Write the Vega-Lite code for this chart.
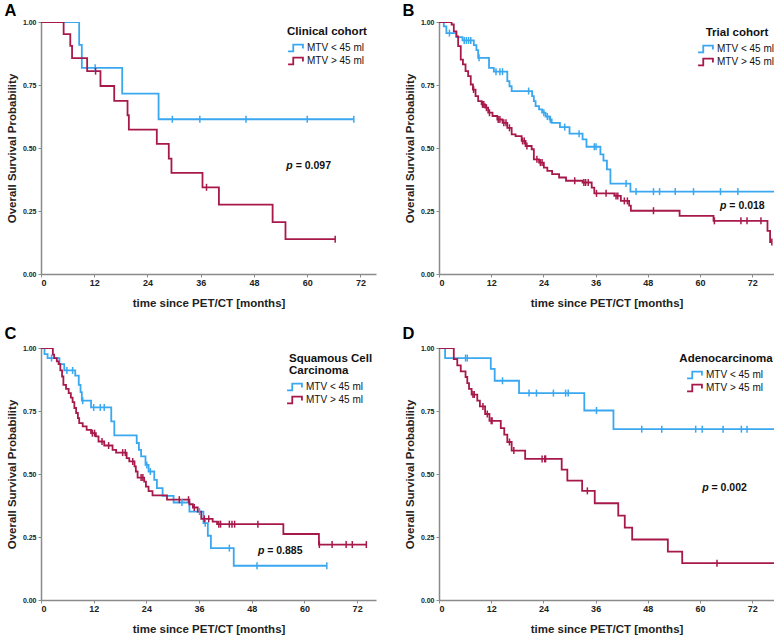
{
  "$schema": "https://vega.github.io/schema/vega-lite/v6.json",
  "background": "white",
  "padding": {"left": 4, "top": 3, "right": 0, "bottom": 0},
  "config": {
    "view": {"stroke": null},
    "axis": {"domainColor": "#8a8a8a", "domainWidth": 1.5, "tickColor": "#8a8a8a", "tickSize": 3, "grid": false,
      "labelFont": "Liberation Sans", "labelFontWeight": "bold", "labelColor": "#222",
      "titleFont": "Liberation Sans", "titleFontWeight": "bold", "titleFontSize": 11.5, "titleColor": "#222"},
    "axisX": {"labelFontSize": 9, "labelPadding": 1, "titlePadding": 10},
    "axisY": {"labelFontSize": 7, "labelPadding": 2, "titlePadding": 4.5, "minExtent": 19, "maxExtent": 19},
    "legend": {"orient": "none", "symbolType": "M-1.65,0.75L-0.5,0.75L-0.5,-0.75L1.65,-0.75L1.65,0.1", "symbolSize": 81, "symbolStrokeWidth": 1.8,
      "symbolFillColor": "transparent", "symbolOffset": 0, "labelOffset": 6, "rowPadding": -3, "titleAnchor": "middle", "titlePadding": 5,
      "titleFontSize": 11.5, "titleFont": "Liberation Sans", "titleFontWeight": "bold", "titleColor": "#111",
      "labelFont": "Liberation Sans", "labelFontSize": 10, "labelColor": "#111", "padding": 0},
    "title": {"anchor": "start", "frame": "bounds", "dx": -2, "fontSize": 16.5, "font": "Liberation Sans", "fontWeight": "bold", "color": "#000"},
    "text": {"font": "Liberation Sans", "fontWeight": "bold", "fontSize": 10.5, "align": "left", "baseline": "middle", "color": "#111"},
    "point": {"shape": "M0,-1L0,1", "size": 49, "strokeWidth": 1.5, "filled": false, "opacity": 1}
  },
  "datasets": {
    "A": [
      {"g":"MTV < 45 ml","t":0,"s":1,"c":0},{"g":"MTV < 45 ml","t":8.6,"s":0.909,"c":0},{"g":"MTV < 45 ml","t":9.2,"s":0.818,"c":0},
      {"g":"MTV < 45 ml","t":12.2,"s":0.818,"c":1},{"g":"MTV < 45 ml","t":18.3,"s":0.716,"c":0},{"g":"MTV < 45 ml","t":26.5,"s":0.614,"c":0},
      {"g":"MTV < 45 ml","t":29.6,"s":0.614,"c":1},{"g":"MTV < 45 ml","t":35.8,"s":0.614,"c":1},{"g":"MTV < 45 ml","t":46.2,"s":0.614,"c":1},
      {"g":"MTV < 45 ml","t":60.0,"s":0.614,"c":1},{"g":"MTV < 45 ml","t":70.5,"s":0.614,"c":1},{"g":"MTV < 45 ml","t":70.5,"s":0.614,"c":0},
      {"g":"MTV > 45 ml","t":0,"s":1,"c":0},{"g":"MTV > 45 ml","t":5.1,"s":0.952,"c":0},{"g":"MTV > 45 ml","t":6.6,"s":0.905,"c":0},
      {"g":"MTV > 45 ml","t":7.0,"s":0.857,"c":0},{"g":"MTV > 45 ml","t":10.4,"s":0.805,"c":0},{"g":"MTV > 45 ml","t":12.3,"s":0.805,"c":1},
      {"g":"MTV > 45 ml","t":13.4,"s":0.746,"c":0},{"g":"MTV > 45 ml","t":16.5,"s":0.687,"c":0},{"g":"MTV > 45 ml","t":19.5,"s":0.630,"c":0},
      {"g":"MTV > 45 ml","t":19.8,"s":0.573,"c":0},{"g":"MTV > 45 ml","t":26.1,"s":0.516,"c":0},{"g":"MTV > 45 ml","t":28.8,"s":0.458,"c":0},
      {"g":"MTV > 45 ml","t":29.4,"s":0.401,"c":0},{"g":"MTV > 45 ml","t":36.4,"s":0.344,"c":0},{"g":"MTV > 45 ml","t":37.3,"s":0.344,"c":1},
      {"g":"MTV > 45 ml","t":40.1,"s":0.275,"c":0},{"g":"MTV > 45 ml","t":52.2,"s":0.206,"c":0},{"g":"MTV > 45 ml","t":55.1,"s":0.138,"c":0},
      {"g":"MTV > 45 ml","t":66.3,"s":0.138,"c":1},{"g":"MTV > 45 ml","t":66.3,"s":0.138,"c":0}
    ],
    "B": [
      {"g":"MTV < 45 ml","t":0,"s":1,"c":0},{"g":"MTV < 45 ml","t":1.1,"s":0.983,"c":0},{"g":"MTV < 45 ml","t":1.7,"s":0.956,"c":0},
      {"g":"MTV < 45 ml","t":2.4,"s":0.956,"c":1},{"g":"MTV < 45 ml","t":4.0,"s":0.940,"c":0},{"g":"MTV < 45 ml","t":5.4,"s":0.927,"c":0},
      {"g":"MTV < 45 ml","t":5.8,"s":0.927,"c":1},{"g":"MTV < 45 ml","t":6.3,"s":0.927,"c":1},{"g":"MTV < 45 ml","t":6.8,"s":0.927,"c":1},
      {"g":"MTV < 45 ml","t":7.3,"s":0.927,"c":1},{"g":"MTV < 45 ml","t":8.0,"s":0.908,"c":0},{"g":"MTV < 45 ml","t":8.6,"s":0.888,"c":0},
      {"g":"MTV < 45 ml","t":9.0,"s":0.858,"c":0},{"g":"MTV < 45 ml","t":9.2,"s":0.858,"c":1},{"g":"MTV < 45 ml","t":11.5,"s":0.818,"c":0},
      {"g":"MTV < 45 ml","t":12.6,"s":0.803,"c":0},{"g":"MTV < 45 ml","t":13.1,"s":0.803,"c":1},{"g":"MTV < 45 ml","t":14.0,"s":0.803,"c":1},
      {"g":"MTV < 45 ml","t":14.6,"s":0.803,"c":1},{"g":"MTV < 45 ml","t":15.7,"s":0.765,"c":0},{"g":"MTV < 45 ml","t":16.2,"s":0.745,"c":0},
      {"g":"MTV < 45 ml","t":16.7,"s":0.726,"c":0},{"g":"MTV < 45 ml","t":20.6,"s":0.726,"c":1},{"g":"MTV < 45 ml","t":21.4,"s":0.706,"c":0},
      {"g":"MTV < 45 ml","t":21.8,"s":0.686,"c":0},{"g":"MTV < 45 ml","t":22.2,"s":0.666,"c":0},{"g":"MTV < 45 ml","t":23.0,"s":0.653,"c":0},
      {"g":"MTV < 45 ml","t":23.7,"s":0.640,"c":0},{"g":"MTV < 45 ml","t":24.1,"s":0.640,"c":1},{"g":"MTV < 45 ml","t":24.5,"s":0.625,"c":0},
      {"g":"MTV < 45 ml","t":24.9,"s":0.625,"c":1},{"g":"MTV < 45 ml","t":25.4,"s":0.613,"c":0},{"g":"MTV < 45 ml","t":25.6,"s":0.613,"c":1},
      {"g":"MTV < 45 ml","t":25.9,"s":0.600,"c":0},{"g":"MTV < 45 ml","t":27.8,"s":0.583,"c":0},{"g":"MTV < 45 ml","t":28.9,"s":0.583,"c":1},
      {"g":"MTV < 45 ml","t":30.0,"s":0.557,"c":0},{"g":"MTV < 45 ml","t":32.2,"s":0.557,"c":1},{"g":"MTV < 45 ml","t":33.0,"s":0.534,"c":0},
      {"g":"MTV < 45 ml","t":33.9,"s":0.505,"c":0},{"g":"MTV < 45 ml","t":35.7,"s":0.505,"c":1},{"g":"MTV < 45 ml","t":36.1,"s":0.505,"c":1},
      {"g":"MTV < 45 ml","t":37.1,"s":0.475,"c":0},{"g":"MTV < 45 ml","t":37.8,"s":0.450,"c":0},{"g":"MTV < 45 ml","t":38.6,"s":0.415,"c":0},
      {"g":"MTV < 45 ml","t":39.4,"s":0.359,"c":0},{"g":"MTV < 45 ml","t":43.0,"s":0.359,"c":1},{"g":"MTV < 45 ml","t":44.0,"s":0.327,"c":0},
      {"g":"MTV < 45 ml","t":45.3,"s":0.327,"c":1},{"g":"MTV < 45 ml","t":49.3,"s":0.327,"c":1},{"g":"MTV < 45 ml","t":50.7,"s":0.327,"c":1},
      {"g":"MTV < 45 ml","t":54.3,"s":0.327,"c":1},{"g":"MTV < 45 ml","t":58.5,"s":0.327,"c":1},{"g":"MTV < 45 ml","t":64.7,"s":0.327,"c":1},
      {"g":"MTV < 45 ml","t":68.7,"s":0.327,"c":1},{"g":"MTV < 45 ml","t":77,"s":0.327,"c":0},
      {"g":"MTV > 45 ml","t":0,"s":1,"c":0},{"g":"MTV > 45 ml","t":2.9,"s":0.990,"c":0},{"g":"MTV > 45 ml","t":3.4,"s":0.963,"c":0},
      {"g":"MTV > 45 ml","t":4.0,"s":0.943,"c":0},{"g":"MTV > 45 ml","t":4.4,"s":0.904,"c":0},{"g":"MTV > 45 ml","t":5.0,"s":0.851,"c":0},
      {"g":"MTV > 45 ml","t":5.5,"s":0.832,"c":0},{"g":"MTV > 45 ml","t":6.1,"s":0.805,"c":0},{"g":"MTV > 45 ml","t":6.7,"s":0.785,"c":0},
      {"g":"MTV > 45 ml","t":7.3,"s":0.752,"c":0},{"g":"MTV > 45 ml","t":7.8,"s":0.732,"c":0},{"g":"MTV > 45 ml","t":7.95,"s":0.732,"c":1},
      {"g":"MTV > 45 ml","t":8.4,"s":0.706,"c":0},{"g":"MTV > 45 ml","t":9.0,"s":0.686,"c":0},{"g":"MTV > 45 ml","t":9.8,"s":0.673,"c":0},
      {"g":"MTV > 45 ml","t":10.0,"s":0.673,"c":1},{"g":"MTV > 45 ml","t":10.3,"s":0.673,"c":1},{"g":"MTV > 45 ml","t":10.6,"s":0.660,"c":0},
      {"g":"MTV > 45 ml","t":10.9,"s":0.660,"c":1},{"g":"MTV > 45 ml","t":11.3,"s":0.640,"c":0},{"g":"MTV > 45 ml","t":11.6,"s":0.640,"c":1},
      {"g":"MTV > 45 ml","t":12.3,"s":0.627,"c":0},{"g":"MTV > 45 ml","t":13.4,"s":0.613,"c":0},{"g":"MTV > 45 ml","t":13.6,"s":0.613,"c":1},
      {"g":"MTV > 45 ml","t":14.0,"s":0.613,"c":1},{"g":"MTV > 45 ml","t":14.6,"s":0.600,"c":0},{"g":"MTV > 45 ml","t":14.9,"s":0.600,"c":1},
      {"g":"MTV > 45 ml","t":15.4,"s":0.600,"c":1},{"g":"MTV > 45 ml","t":15.7,"s":0.580,"c":0},{"g":"MTV > 45 ml","t":16.2,"s":0.580,"c":1},
      {"g":"MTV > 45 ml","t":16.7,"s":0.554,"c":0},{"g":"MTV > 45 ml","t":17.6,"s":0.547,"c":0},{"g":"MTV > 45 ml","t":19.0,"s":0.528,"c":0},
      {"g":"MTV > 45 ml","t":19.2,"s":0.528,"c":1},{"g":"MTV > 45 ml","t":19.6,"s":0.528,"c":1},{"g":"MTV > 45 ml","t":19.9,"s":0.508,"c":0},
      {"g":"MTV > 45 ml","t":20.2,"s":0.508,"c":1},{"g":"MTV > 45 ml","t":21.3,"s":0.495,"c":0},{"g":"MTV > 45 ml","t":21.8,"s":0.455,"c":0},
      {"g":"MTV > 45 ml","t":22.5,"s":0.455,"c":1},{"g":"MTV > 45 ml","t":23.0,"s":0.442,"c":0},{"g":"MTV > 45 ml","t":23.3,"s":0.442,"c":1},
      {"g":"MTV > 45 ml","t":23.7,"s":0.442,"c":1},{"g":"MTV > 45 ml","t":24.1,"s":0.422,"c":0},{"g":"MTV > 45 ml","t":24.9,"s":0.409,"c":0},
      {"g":"MTV > 45 ml","t":26.0,"s":0.396,"c":0},{"g":"MTV > 45 ml","t":27.6,"s":0.383,"c":0},{"g":"MTV > 45 ml","t":29.2,"s":0.370,"c":0},
      {"g":"MTV > 45 ml","t":31.2,"s":0.370,"c":1},{"g":"MTV > 45 ml","t":33.0,"s":0.363,"c":0},{"g":"MTV > 45 ml","t":33.3,"s":0.363,"c":1},
      {"g":"MTV > 45 ml","t":33.7,"s":0.363,"c":1},{"g":"MTV > 45 ml","t":34.3,"s":0.363,"c":1},{"g":"MTV > 45 ml","t":35.1,"s":0.343,"c":0},
      {"g":"MTV > 45 ml","t":35.7,"s":0.320,"c":0},{"g":"MTV > 45 ml","t":36.2,"s":0.320,"c":1},{"g":"MTV > 45 ml","t":38.4,"s":0.320,"c":1},
      {"g":"MTV > 45 ml","t":40.3,"s":0.310,"c":0},{"g":"MTV > 45 ml","t":40.7,"s":0.310,"c":1},{"g":"MTV > 45 ml","t":41.1,"s":0.310,"c":1},
      {"g":"MTV > 45 ml","t":41.8,"s":0.290,"c":0},{"g":"MTV > 45 ml","t":42.6,"s":0.290,"c":1},{"g":"MTV > 45 ml","t":43.3,"s":0.290,"c":1},
      {"g":"MTV > 45 ml","t":43.7,"s":0.271,"c":0},{"g":"MTV > 45 ml","t":44.1,"s":0.251,"c":0},{"g":"MTV > 45 ml","t":49.3,"s":0.251,"c":1},
      {"g":"MTV > 45 ml","t":55.3,"s":0.231,"c":0},{"g":"MTV > 45 ml","t":63.1,"s":0.211,"c":0},{"g":"MTV > 45 ml","t":63.3,"s":0.211,"c":1},
      {"g":"MTV > 45 ml","t":69.4,"s":0.211,"c":1},{"g":"MTV > 45 ml","t":70.8,"s":0.211,"c":1},{"g":"MTV > 45 ml","t":74.0,"s":0.211,"c":1},
      {"g":"MTV > 45 ml","t":75.5,"s":0.171,"c":0},{"g":"MTV > 45 ml","t":76.1,"s":0.127,"c":0},{"g":"MTV > 45 ml","t":76.5,"s":0.127,"c":1},
      {"g":"MTV > 45 ml","t":76.5,"s":0.127,"c":0}
    ],
    "C": [
      {"g":"MTV < 45 ml","t":0,"s":1,"c":0},{"g":"MTV < 45 ml","t":0.8,"s":0.976,"c":0},{"g":"MTV < 45 ml","t":1.5,"s":0.960,"c":0},
      {"g":"MTV < 45 ml","t":2.4,"s":0.960,"c":1},{"g":"MTV < 45 ml","t":4.2,"s":0.936,"c":0},{"g":"MTV < 45 ml","t":5.3,"s":0.911,"c":0},
      {"g":"MTV < 45 ml","t":5.9,"s":0.911,"c":1},{"g":"MTV < 45 ml","t":7.2,"s":0.911,"c":1},{"g":"MTV < 45 ml","t":7.8,"s":0.890,"c":0},
      {"g":"MTV < 45 ml","t":8.6,"s":0.854,"c":0},{"g":"MTV < 45 ml","t":9.0,"s":0.825,"c":0},{"g":"MTV < 45 ml","t":9.3,"s":0.791,"c":0},
      {"g":"MTV < 45 ml","t":9.5,"s":0.791,"c":1},{"g":"MTV < 45 ml","t":11.4,"s":0.764,"c":0},{"g":"MTV < 45 ml","t":12.0,"s":0.764,"c":1},
      {"g":"MTV < 45 ml","t":13.5,"s":0.764,"c":1},{"g":"MTV < 45 ml","t":14.4,"s":0.764,"c":1},{"g":"MTV < 45 ml","t":16.0,"s":0.709,"c":0},
      {"g":"MTV < 45 ml","t":16.7,"s":0.653,"c":0},{"g":"MTV < 45 ml","t":21.8,"s":0.623,"c":0},{"g":"MTV < 45 ml","t":22.3,"s":0.596,"c":0},
      {"g":"MTV < 45 ml","t":22.8,"s":0.570,"c":0},{"g":"MTV < 45 ml","t":23.8,"s":0.536,"c":0},{"g":"MTV < 45 ml","t":24.1,"s":0.536,"c":1},
      {"g":"MTV < 45 ml","t":24.5,"s":0.510,"c":0},{"g":"MTV < 45 ml","t":24.9,"s":0.510,"c":1},{"g":"MTV < 45 ml","t":25.8,"s":0.477,"c":0},
      {"g":"MTV < 45 ml","t":26.4,"s":0.444,"c":0},{"g":"MTV < 45 ml","t":27.7,"s":0.413,"c":0},{"g":"MTV < 45 ml","t":30.2,"s":0.387,"c":0},
      {"g":"MTV < 45 ml","t":32.1,"s":0.387,"c":1},{"g":"MTV < 45 ml","t":33.8,"s":0.351,"c":0},{"g":"MTV < 45 ml","t":36.1,"s":0.351,"c":1},
      {"g":"MTV < 45 ml","t":37.0,"s":0.305,"c":0},{"g":"MTV < 45 ml","t":37.4,"s":0.305,"c":1},{"g":"MTV < 45 ml","t":38.0,"s":0.255,"c":0},
      {"g":"MTV < 45 ml","t":38.7,"s":0.206,"c":0},{"g":"MTV < 45 ml","t":42.9,"s":0.206,"c":1},{"g":"MTV < 45 ml","t":43.9,"s":0.136,"c":0},
      {"g":"MTV < 45 ml","t":49.2,"s":0.136,"c":1},{"g":"MTV < 45 ml","t":65.1,"s":0.136,"c":1},{"g":"MTV < 45 ml","t":65.1,"s":0.136,"c":0},
      {"g":"MTV > 45 ml","t":0,"s":1,"c":0},{"g":"MTV > 45 ml","t":2.7,"s":0.974,"c":0},{"g":"MTV > 45 ml","t":3.0,"s":0.960,"c":0},
      {"g":"MTV > 45 ml","t":3.6,"s":0.947,"c":0},{"g":"MTV > 45 ml","t":4.0,"s":0.936,"c":0},{"g":"MTV > 45 ml","t":4.4,"s":0.911,"c":0},
      {"g":"MTV > 45 ml","t":4.8,"s":0.887,"c":0},{"g":"MTV > 45 ml","t":5.1,"s":0.854,"c":0},{"g":"MTV > 45 ml","t":5.7,"s":0.838,"c":0},
      {"g":"MTV > 45 ml","t":6.3,"s":0.821,"c":0},{"g":"MTV > 45 ml","t":6.8,"s":0.803,"c":0},{"g":"MTV > 45 ml","t":7.2,"s":0.785,"c":0},
      {"g":"MTV > 45 ml","t":7.6,"s":0.762,"c":0},{"g":"MTV > 45 ml","t":8.0,"s":0.742,"c":0},{"g":"MTV > 45 ml","t":8.4,"s":0.722,"c":0},
      {"g":"MTV > 45 ml","t":8.7,"s":0.702,"c":0},{"g":"MTV > 45 ml","t":9.5,"s":0.689,"c":0},{"g":"MTV > 45 ml","t":10.4,"s":0.675,"c":0},
      {"g":"MTV > 45 ml","t":11.4,"s":0.662,"c":0},{"g":"MTV > 45 ml","t":11.7,"s":0.662,"c":1},{"g":"MTV > 45 ml","t":12.2,"s":0.662,"c":1},
      {"g":"MTV > 45 ml","t":12.5,"s":0.649,"c":0},{"g":"MTV > 45 ml","t":13.1,"s":0.629,"c":0},{"g":"MTV > 45 ml","t":13.9,"s":0.629,"c":1},
      {"g":"MTV > 45 ml","t":14.4,"s":0.613,"c":0},{"g":"MTV > 45 ml","t":15.4,"s":0.613,"c":1},{"g":"MTV > 45 ml","t":16.3,"s":0.596,"c":0},
      {"g":"MTV > 45 ml","t":17.1,"s":0.585,"c":0},{"g":"MTV > 45 ml","t":18.6,"s":0.585,"c":1},{"g":"MTV > 45 ml","t":19.2,"s":0.585,"c":1},
      {"g":"MTV > 45 ml","t":19.5,"s":0.563,"c":0},{"g":"MTV > 45 ml","t":20.1,"s":0.550,"c":0},{"g":"MTV > 45 ml","t":20.9,"s":0.550,"c":1},
      {"g":"MTV > 45 ml","t":21.3,"s":0.530,"c":0},{"g":"MTV > 45 ml","t":21.6,"s":0.510,"c":0},{"g":"MTV > 45 ml","t":22.0,"s":0.486,"c":0},
      {"g":"MTV > 45 ml","t":22.8,"s":0.486,"c":1},{"g":"MTV > 45 ml","t":23.2,"s":0.486,"c":1},{"g":"MTV > 45 ml","t":23.5,"s":0.470,"c":0},
      {"g":"MTV > 45 ml","t":23.9,"s":0.450,"c":0},{"g":"MTV > 45 ml","t":24.5,"s":0.432,"c":0},{"g":"MTV > 45 ml","t":25.4,"s":0.415,"c":0},
      {"g":"MTV > 45 ml","t":28.7,"s":0.398,"c":0},{"g":"MTV > 45 ml","t":31.5,"s":0.398,"c":1},{"g":"MTV > 45 ml","t":33.6,"s":0.398,"c":1},
      {"g":"MTV > 45 ml","t":33.8,"s":0.380,"c":0},{"g":"MTV > 45 ml","t":34.6,"s":0.367,"c":0},{"g":"MTV > 45 ml","t":34.9,"s":0.367,"c":1},
      {"g":"MTV > 45 ml","t":35.7,"s":0.351,"c":0},{"g":"MTV > 45 ml","t":36.5,"s":0.322,"c":0},{"g":"MTV > 45 ml","t":37.2,"s":0.322,"c":1},
      {"g":"MTV > 45 ml","t":38.2,"s":0.322,"c":1},{"g":"MTV > 45 ml","t":39.1,"s":0.311,"c":0},{"g":"MTV > 45 ml","t":40.1,"s":0.301,"c":0},
      {"g":"MTV > 45 ml","t":40.5,"s":0.301,"c":1},{"g":"MTV > 45 ml","t":40.9,"s":0.301,"c":1},{"g":"MTV > 45 ml","t":42.9,"s":0.301,"c":1},
      {"g":"MTV > 45 ml","t":43.5,"s":0.301,"c":1},{"g":"MTV > 45 ml","t":44.1,"s":0.301,"c":1},{"g":"MTV > 45 ml","t":49.4,"s":0.301,"c":1},
      {"g":"MTV > 45 ml","t":55.2,"s":0.262,"c":0},{"g":"MTV > 45 ml","t":63.3,"s":0.220,"c":0},{"g":"MTV > 45 ml","t":63.4,"s":0.220,"c":1},
      {"g":"MTV > 45 ml","t":66.3,"s":0.220,"c":1},{"g":"MTV > 45 ml","t":69.5,"s":0.220,"c":1},{"g":"MTV > 45 ml","t":70.9,"s":0.220,"c":1},
      {"g":"MTV > 45 ml","t":74.1,"s":0.220,"c":1},{"g":"MTV > 45 ml","t":74.1,"s":0.220,"c":0}
    ],
    "D": [
      {"g":"MTV < 45 ml","t":0,"s":1,"c":0},{"g":"MTV < 45 ml","t":1.4,"s":0.960,"c":0},{"g":"MTV < 45 ml","t":6.1,"s":0.960,"c":1},
      {"g":"MTV < 45 ml","t":6.5,"s":0.960,"c":1},{"g":"MTV < 45 ml","t":11.9,"s":0.917,"c":0},{"g":"MTV < 45 ml","t":12.8,"s":0.870,"c":0},
      {"g":"MTV < 45 ml","t":14.6,"s":0.870,"c":1},{"g":"MTV < 45 ml","t":18.4,"s":0.821,"c":0},{"g":"MTV < 45 ml","t":20.7,"s":0.821,"c":1},
      {"g":"MTV < 45 ml","t":22.4,"s":0.821,"c":1},{"g":"MTV < 45 ml","t":26.3,"s":0.821,"c":1},{"g":"MTV < 45 ml","t":29.1,"s":0.821,"c":1},
      {"g":"MTV < 45 ml","t":29.7,"s":0.821,"c":1},{"g":"MTV < 45 ml","t":33.4,"s":0.752,"c":0},{"g":"MTV < 45 ml","t":36.2,"s":0.752,"c":1},
      {"g":"MTV < 45 ml","t":40.1,"s":0.678,"c":0},{"g":"MTV < 45 ml","t":46.6,"s":0.678,"c":1},{"g":"MTV < 45 ml","t":51.2,"s":0.678,"c":1},
      {"g":"MTV < 45 ml","t":59.0,"s":0.678,"c":1},{"g":"MTV < 45 ml","t":60.5,"s":0.678,"c":1},{"g":"MTV < 45 ml","t":65.3,"s":0.678,"c":1},
      {"g":"MTV < 45 ml","t":69.5,"s":0.678,"c":1},{"g":"MTV < 45 ml","t":70.8,"s":0.678,"c":1},{"g":"MTV < 45 ml","t":77,"s":0.678,"c":0},
      {"g":"MTV > 45 ml","t":0,"s":1,"c":0},{"g":"MTV > 45 ml","t":3.4,"s":0.956,"c":0},{"g":"MTV > 45 ml","t":4.2,"s":0.931,"c":0},
      {"g":"MTV > 45 ml","t":5.0,"s":0.907,"c":0},{"g":"MTV > 45 ml","t":6.1,"s":0.885,"c":0},{"g":"MTV > 45 ml","t":6.5,"s":0.861,"c":0},
      {"g":"MTV > 45 ml","t":6.9,"s":0.838,"c":0},{"g":"MTV > 45 ml","t":7.5,"s":0.815,"c":0},{"g":"MTV > 45 ml","t":7.8,"s":0.815,"c":1},
      {"g":"MTV > 45 ml","t":8.1,"s":0.815,"c":1},{"g":"MTV > 45 ml","t":8.8,"s":0.791,"c":0},{"g":"MTV > 45 ml","t":9.4,"s":0.768,"c":0},
      {"g":"MTV > 45 ml","t":10.1,"s":0.768,"c":1},{"g":"MTV > 45 ml","t":10.6,"s":0.738,"c":0},{"g":"MTV > 45 ml","t":11.1,"s":0.738,"c":1},
      {"g":"MTV > 45 ml","t":11.6,"s":0.711,"c":0},{"g":"MTV > 45 ml","t":12.0,"s":0.711,"c":1},{"g":"MTV > 45 ml","t":12.2,"s":0.711,"c":1},
      {"g":"MTV > 45 ml","t":14.2,"s":0.682,"c":0},{"g":"MTV > 45 ml","t":15.0,"s":0.656,"c":0},{"g":"MTV > 45 ml","t":15.7,"s":0.627,"c":0},
      {"g":"MTV > 45 ml","t":16.2,"s":0.627,"c":1},{"g":"MTV > 45 ml","t":16.7,"s":0.593,"c":0},{"g":"MTV > 45 ml","t":17.2,"s":0.593,"c":1},
      {"g":"MTV > 45 ml","t":19.8,"s":0.560,"c":0},{"g":"MTV > 45 ml","t":23.7,"s":0.560,"c":1},{"g":"MTV > 45 ml","t":24.3,"s":0.560,"c":1},
      {"g":"MTV > 45 ml","t":24.5,"s":0.560,"c":1},{"g":"MTV > 45 ml","t":28.2,"s":0.517,"c":0},{"g":"MTV > 45 ml","t":29.5,"s":0.474,"c":0},
      {"g":"MTV > 45 ml","t":32.9,"s":0.433,"c":0},{"g":"MTV > 45 ml","t":34.1,"s":0.433,"c":1},{"g":"MTV > 45 ml","t":35.8,"s":0.384,"c":0},
      {"g":"MTV > 45 ml","t":41.2,"s":0.335,"c":0},{"g":"MTV > 45 ml","t":42.7,"s":0.287,"c":0},{"g":"MTV > 45 ml","t":44.4,"s":0.240,"c":0},
      {"g":"MTV > 45 ml","t":52.6,"s":0.192,"c":0},{"g":"MTV > 45 ml","t":55.9,"s":0.146,"c":0},{"g":"MTV > 45 ml","t":63.9,"s":0.146,"c":1},
      {"g":"MTV > 45 ml","t":77,"s":0.146,"c":0}
    ],
    "P": [
      {"panel":"A","t":55.3,"s":0.43,"v":"= 0.097"},
      {"panel":"B","t":64.6,"s":0.270,"v":"= 0.018"},
      {"panel":"C","t":49.4,"s":0.196,"v":"= 0.885"},
      {"panel":"D","t":60.5,"s":0.446,"v":"= 0.002"}
    ]
  },
  "resolve": {"scale": {"color": "independent"}, "legend": {"color": "independent"}},
  "spacing": 17,
  "vconcat": [
    {
      "resolve": {"scale": {"color": "independent"}, "legend": {"color": "independent"}},
      "spacing": 26,
      "hconcat": [
        {
          "width": 335, "height": 252,
          "title": {"text": "A", "offset": -1.5},
          "layer": [
            {"data": {"name": "A"}, "transform": [{"filter": "datum.c == 0"}],
              "mark": {"type": "line", "interpolate": "step-after", "strokeWidth": 1.8, "clip": true},
              "encoding": {
                "x": {"field": "t", "type": "quantitative", "scale": {"domain": [0, 75.5], "nice": false, "zero": false}, "axis": {"values": [0, 12, 24, 36, 48, 60, 72], "title": "time since PET/CT [months]"}},
                "y": {"field": "s", "type": "quantitative", "scale": {"domain": [0, 1], "nice": false}, "axis": {"values": [0, 0.25, 0.5, 0.75, 1], "format": ".2f", "title": "Overall Survival Probability"}},
                "color": {"field": "g", "type": "nominal", "scale": {"domain": ["MTV < 45 ml", "MTV > 45 ml"], "range": ["#3AA8F0", "#A8194B"]},
                  "legend": {"title": "Clinical cohort", "legendX": 246, "legendY": 4}}
              }},
            {"data": {"name": "A"}, "transform": [{"filter": "datum.c == 1"}],
              "mark": {"type": "point"},
              "encoding": {"x": {"field": "t", "type": "quantitative"}, "y": {"field": "s", "type": "quantitative"},
                "color": {"field": "g", "type": "nominal", "legend": null}}},
            {"data": {"name": "P"}, "transform": [{"filter": "datum.panel == 'A'"}],
              "mark": {"type": "text", "text": "p", "fontStyle": "italic"},
              "encoding": {"x": {"field": "t", "type": "quantitative"}, "y": {"field": "s", "type": "quantitative"}}},
            {"data": {"name": "P"}, "transform": [{"filter": "datum.panel == 'A'"}],
              "mark": {"type": "text", "dx": 9.3},
              "encoding": {"x": {"field": "t", "type": "quantitative"}, "y": {"field": "s", "type": "quantitative"}, "text": {"field": "v"}}}
          ]
        },
        {
          "width": 335, "height": 252,
          "title": {"text": "B", "offset": -1.5},
          "layer": [
            {"data": {"name": "B"}, "transform": [{"filter": "datum.c == 0"}],
              "mark": {"type": "line", "interpolate": "step-after", "strokeWidth": 1.8, "clip": true},
              "encoding": {
                "x": {"field": "t", "type": "quantitative", "scale": {"domain": [0, 77], "nice": false, "zero": false}, "axis": {"values": [0, 12, 24, 36, 48, 60, 72], "title": "time since PET/CT [months]"}},
                "y": {"field": "s", "type": "quantitative", "scale": {"domain": [0, 1], "nice": false}, "axis": {"values": [0, 0.25, 0.5, 0.75, 1], "format": ".2f", "title": "Overall Survival Probability"}},
                "color": {"field": "g", "type": "nominal", "scale": {"domain": ["MTV < 45 ml", "MTV > 45 ml"], "range": ["#3AA8F0", "#A8194B"]},
                  "legend": {"title": "Trial cohort", "legendX": 261, "legendY": 5}}
              }},
            {"data": {"name": "B"}, "transform": [{"filter": "datum.c == 1"}],
              "mark": {"type": "point", "clip": true},
              "encoding": {"x": {"field": "t", "type": "quantitative"}, "y": {"field": "s", "type": "quantitative"},
                "color": {"field": "g", "type": "nominal", "legend": null}}},
            {"data": {"name": "P"}, "transform": [{"filter": "datum.panel == 'B'"}],
              "mark": {"type": "text", "text": "p", "fontStyle": "italic"},
              "encoding": {"x": {"field": "t", "type": "quantitative"}, "y": {"field": "s", "type": "quantitative"}}},
            {"data": {"name": "P"}, "transform": [{"filter": "datum.panel == 'B'"}],
              "mark": {"type": "text", "dx": 9.3},
              "encoding": {"x": {"field": "t", "type": "quantitative"}, "y": {"field": "s", "type": "quantitative"}, "text": {"field": "v"}}}
          ]
        }
      ]
    },
    {
      "resolve": {"scale": {"color": "independent"}, "legend": {"color": "independent"}},
      "spacing": 26,
      "hconcat": [
        {
          "width": 335, "height": 252,
          "title": {"text": "C", "offset": 1.5},
          "layer": [
            {"data": {"name": "C"}, "transform": [{"filter": "datum.c == 0"}],
              "mark": {"type": "line", "interpolate": "step-after", "strokeWidth": 1.8, "clip": true},
              "encoding": {
                "x": {"field": "t", "type": "quantitative", "scale": {"domain": [0, 76.3], "nice": false, "zero": false}, "axis": {"values": [0, 12, 24, 36, 48, 60, 72], "title": "time since PET/CT [months]"}},
                "y": {"field": "s", "type": "quantitative", "scale": {"domain": [0, 1], "nice": false}, "axis": {"values": [0, 0.25, 0.5, 0.75, 1], "format": ".2f", "title": "Overall Survival Probability"}},
                "color": {"field": "g", "type": "nominal", "scale": {"domain": ["MTV < 45 ml", "MTV > 45 ml"], "range": ["#3AA8F0", "#A8194B"]},
                  "legend": {"title": ["Squamous Cell", "\u00a0\u00a0\u00a0Carcinoma"], "titleAnchor": "start", "titleAlign": "left", "titleLineHeight": 12, "legendX": 248, "legendY": 5}}
              }},
            {"data": {"name": "C"}, "transform": [{"filter": "datum.c == 1"}],
              "mark": {"type": "point"},
              "encoding": {"x": {"field": "t", "type": "quantitative"}, "y": {"field": "s", "type": "quantitative"},
                "color": {"field": "g", "type": "nominal", "legend": null}}},
            {"data": {"name": "P"}, "transform": [{"filter": "datum.panel == 'C'"}],
              "mark": {"type": "text", "text": "p", "fontStyle": "italic"},
              "encoding": {"x": {"field": "t", "type": "quantitative"}, "y": {"field": "s", "type": "quantitative"}}},
            {"data": {"name": "P"}, "transform": [{"filter": "datum.panel == 'C'"}],
              "mark": {"type": "text", "dx": 9.3},
              "encoding": {"x": {"field": "t", "type": "quantitative"}, "y": {"field": "s", "type": "quantitative"}, "text": {"field": "v"}}}
          ]
        },
        {
          "width": 335, "height": 252,
          "title": {"text": "D", "offset": 1.5},
          "layer": [
            {"data": {"name": "D"}, "transform": [{"filter": "datum.c == 0"}],
              "mark": {"type": "line", "interpolate": "step-after", "strokeWidth": 1.8, "clip": true},
              "encoding": {
                "x": {"field": "t", "type": "quantitative", "scale": {"domain": [0, 77], "nice": false, "zero": false}, "axis": {"values": [0, 12, 24, 36, 48, 60, 72], "title": "time since PET/CT [months]"}},
                "y": {"field": "s", "type": "quantitative", "scale": {"domain": [0, 1], "nice": false}, "axis": {"values": [0, 0.25, 0.5, 0.75, 1], "format": ".2f", "title": "Overall Survival Probability"}},
                "color": {"field": "g", "type": "nominal", "scale": {"domain": ["MTV < 45 ml", "MTV > 45 ml"], "range": ["#3AA8F0", "#A8194B"]},
                  "legend": {"title": "Adenocarcinoma", "legendX": 240, "legendY": 5}}
              }},
            {"data": {"name": "D"}, "transform": [{"filter": "datum.c == 1"}],
              "mark": {"type": "point"},
              "encoding": {"x": {"field": "t", "type": "quantitative"}, "y": {"field": "s", "type": "quantitative"},
                "color": {"field": "g", "type": "nominal", "legend": null}}},
            {"data": {"name": "P"}, "transform": [{"filter": "datum.panel == 'D'"}],
              "mark": {"type": "text", "text": "p", "fontStyle": "italic"},
              "encoding": {"x": {"field": "t", "type": "quantitative"}, "y": {"field": "s", "type": "quantitative"}}},
            {"data": {"name": "P"}, "transform": [{"filter": "datum.panel == 'D'"}],
              "mark": {"type": "text", "dx": 9.3},
              "encoding": {"x": {"field": "t", "type": "quantitative"}, "y": {"field": "s", "type": "quantitative"}, "text": {"field": "v"}}}
          ]
        }
      ]
    }
  ]
}
